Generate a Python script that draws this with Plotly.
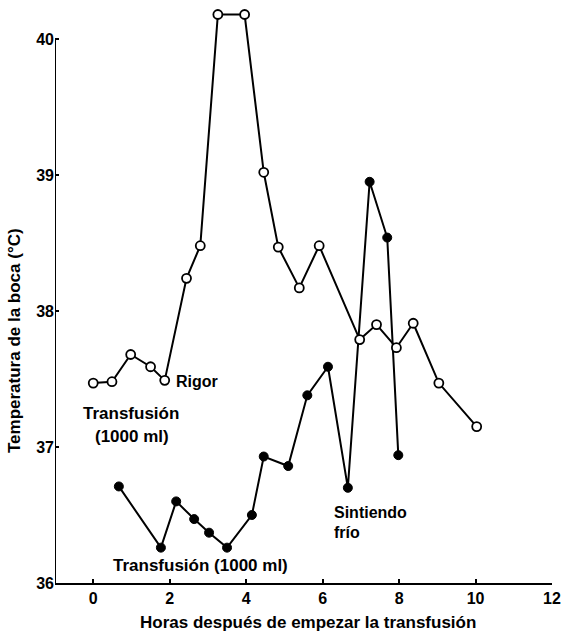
import plotly.graph_objects as go

# Open circles series (temperature, °C)
open_hours = [0.0, 0.49, 0.98, 1.5, 1.87, 2.44, 2.80, 3.26, 3.96, 4.46, 4.84, 5.39, 5.91, 6.97, 7.41, 7.93, 8.37, 9.04, 10.03]
open_temp = [37.47, 37.48, 37.68, 37.59, 37.49, 38.24, 38.48, 40.18, 40.18, 39.02, 38.47, 38.17, 38.48, 37.79, 37.90, 37.73, 37.91, 37.47, 37.15]

# Filled circles series
fill_hours = [0.67, 1.77, 2.17, 2.64, 3.03, 3.50, 4.15, 4.46, 5.10, 5.60, 6.14, 6.66, 7.23, 7.69, 7.98]
fill_temp = [36.71, 36.26, 36.60, 36.47, 36.37, 36.26, 36.50, 36.93, 36.86, 37.38, 37.59, 36.70, 38.95, 38.54, 36.94]

x_ticks = [0, 2, 4, 6, 8, 10, 12]
y_ticks = [36, 37, 38, 39, 40]

FONT = "Liberation Sans, Arial, sans-serif"

fig = go.Figure()
fig.add_trace(go.Scatter(
    x=fill_hours, y=fill_temp, mode="lines+markers",
    line=dict(color="black", width=2),
    marker=dict(symbol="circle", size=9, color="black", line=dict(color="black", width=1)),
    cliponaxis=False, showlegend=False))
fig.add_trace(go.Scatter(
    x=open_hours, y=open_temp, mode="lines+markers",
    line=dict(color="black", width=2),
    marker=dict(symbol="circle", size=9, color="white", line=dict(color="black", width=1.8)),
    cliponaxis=False, showlegend=False))

# y axis line (only up to 40)
fig.add_shape(type="line", xref="x", yref="y", x0=-1, x1=-1, y0=36, y1=40,
              line=dict(color="black", width=2))

f17 = dict(family=FONT, size=17, color="black")
f16 = dict(family=FONT, size=16, color="black")
fig.add_annotation(x=2.10, y=37.48, text="<b>Rigor</b>", showarrow=False, xanchor="left", yanchor="middle", font=f16)
fig.add_annotation(x=0.98, y=37.25, text="<b>Transfusión</b>", showarrow=False, xanchor="center", yanchor="middle", font=f17)
fig.add_annotation(x=1.01, y=37.08, text="<b>(1000 ml)</b>", showarrow=False, xanchor="center", yanchor="middle", font=f17)
fig.add_annotation(x=2.80, y=36.13, text="<b>Transfusión (1000 ml)</b>", showarrow=False, xanchor="center", yanchor="middle", font=f17)
fig.add_annotation(x=6.24, y=36.52, text="<b>Sintiendo</b>", showarrow=False, xanchor="left", yanchor="middle", font=f16)
fig.add_annotation(x=6.24, y=36.37, text="<b>frío</b>", showarrow=False, xanchor="left", yanchor="middle", font=f16)

# axis titles
fig.add_annotation(xref="paper", yref="paper", x=0.51, y=-0.069,
                   text="<b>Horas después de empezar la transfusión</b>", showarrow=False,
                   xanchor="center", yanchor="middle", font=f17)
fig.add_annotation(xref="paper", yref="paper", x=-0.08, y=0.419,
                   text="<b>Temperatura de la boca (°C)</b>", showarrow=False, textangle=-90,
                   xanchor="center", yanchor="middle", font=f17)

fig.update_xaxes(range=[-1, 12], tickvals=x_ticks, ticktext=[f"<b>{t}</b>" for t in x_ticks],
                 showgrid=False, zeroline=False, showline=True, linecolor="black", linewidth=2,
                 ticks="inside", ticklen=4, tickcolor="black", tickwidth=1.5,
                 tickfont=dict(family=FONT, size=16, color="black"))
fig.update_yaxes(range=[36, 40.25], tickvals=y_ticks, ticktext=[f"<b>{t}</b>" for t in y_ticks],
                 showgrid=False, zeroline=False, showline=False,
                 ticks="inside", ticklen=4, tickcolor="black", tickwidth=1.5,
                 tickfont=dict(family=FONT, size=16, color="black"))

fig.update_layout(width=566, height=636, margin=dict(l=55, r=9, t=5, b=53),
                  plot_bgcolor="white", paper_bgcolor="white")

fig.write_html("out.html", config={"displayModeBar": False},
               post_script="document.body.style.margin='0px';document.body.style.overflow='hidden';")
